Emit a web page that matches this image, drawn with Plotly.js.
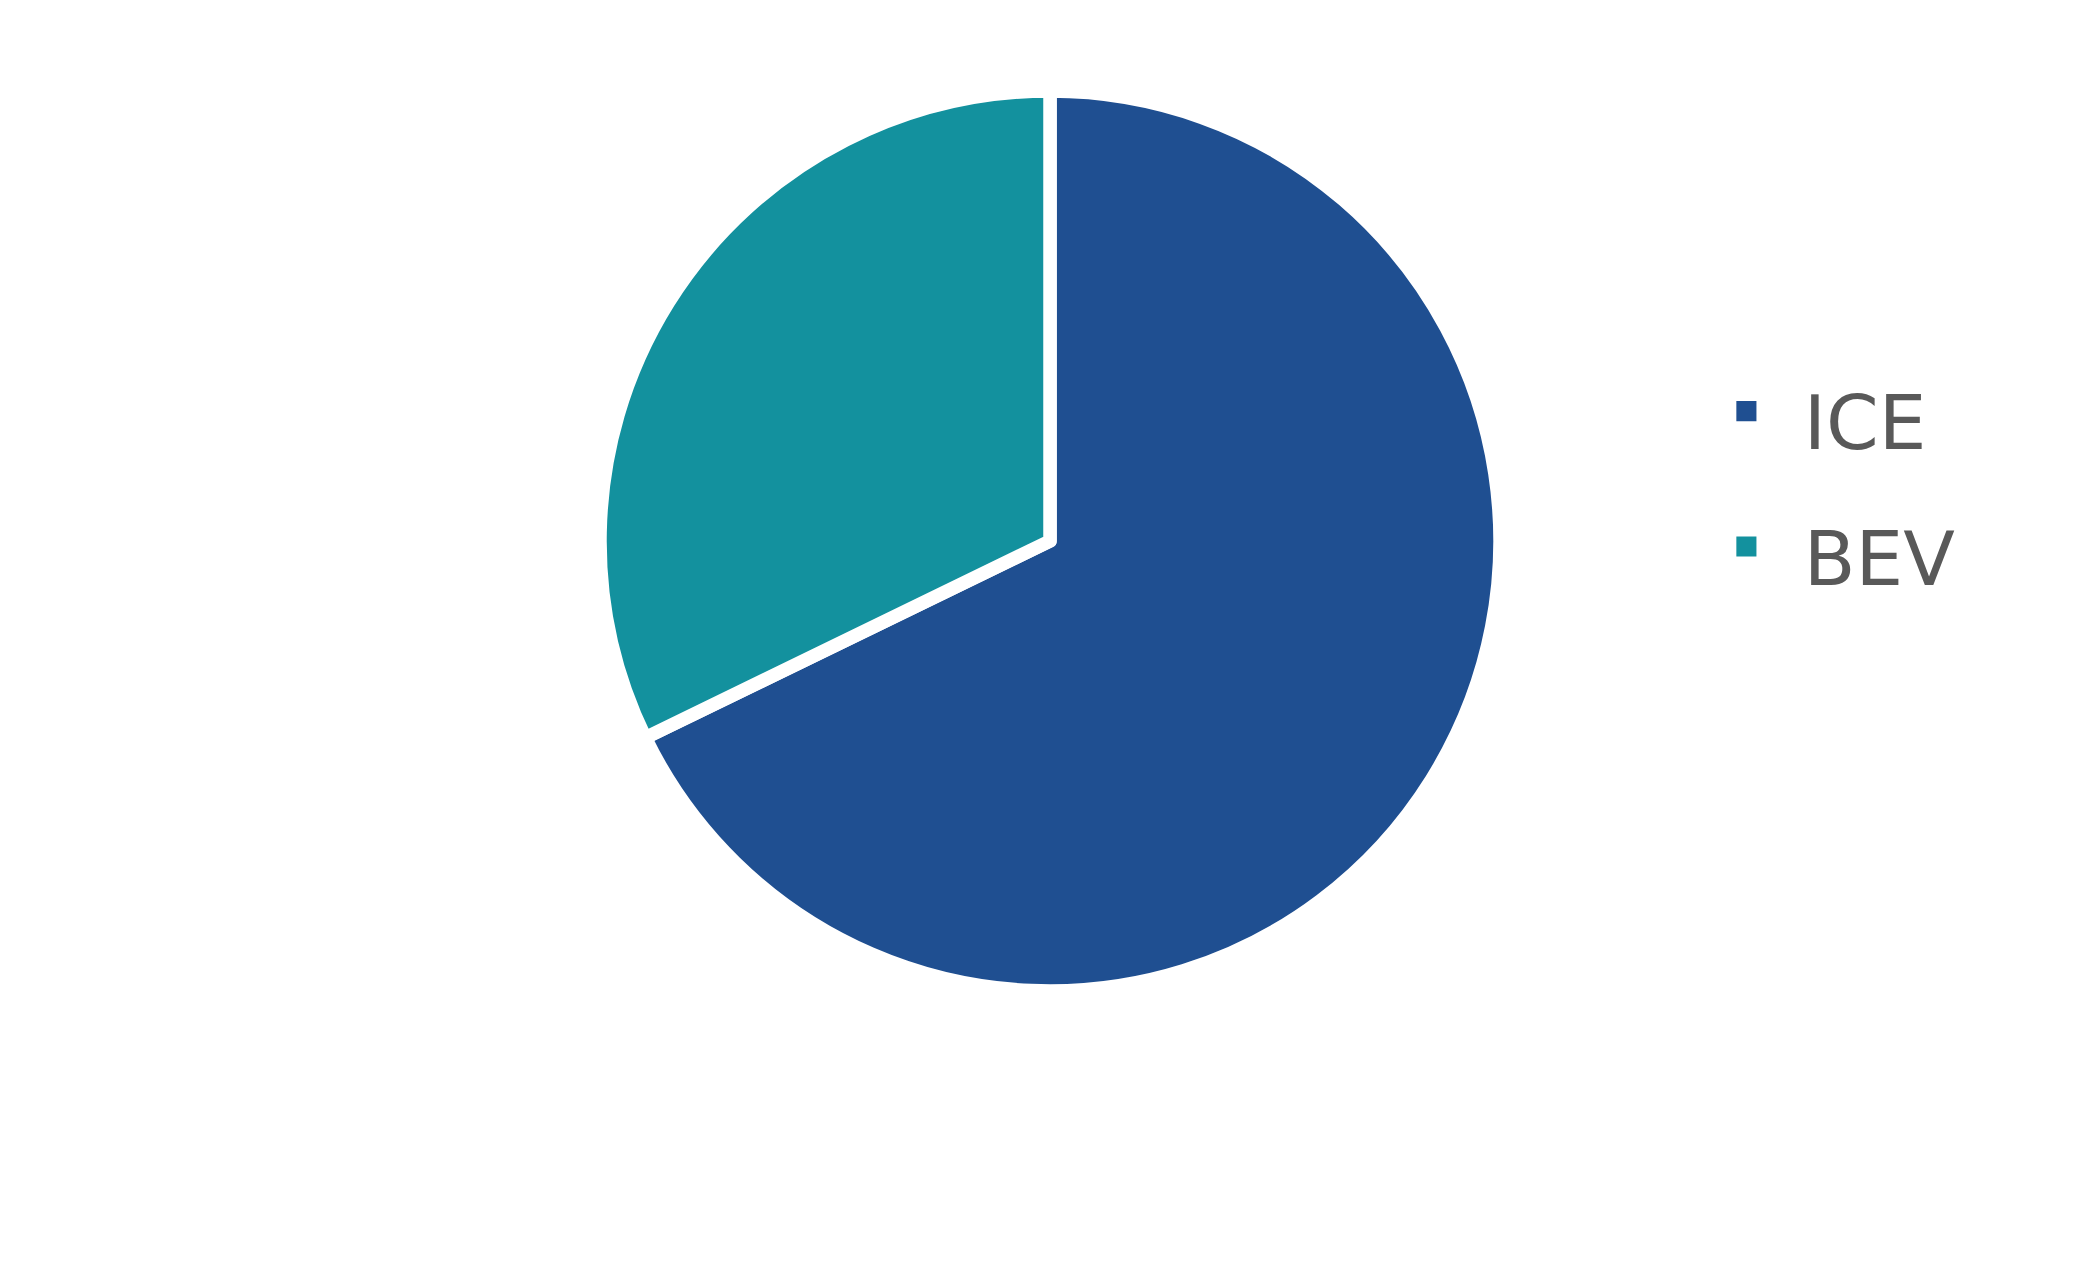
<!DOCTYPE html>
<html>
<head>
<meta charset="utf-8">
<script src="https://cdn.plot.ly/plotly-3.0.1.min.js"></script>
<style>
  html, body { margin:0; padding:0; background:#fff; overflow:hidden; }
</style>
</head>
<body>
<div id="chart"></div>
<script>
// ICE vs BEV share pie, legend on the right

const labels = ['ICE', 'BEV'];
const shares = [67.8, 32.2];
const colors = ['#1f4f91', '#13919e'];

const W = 2099, H = 1272;

// the legend is drawn at 1/LEG_SCALE and blown up afterwards so the swatches come out big
const LEG_SCALE = 2.87;
const LEG_X = 1689, LEG_Y = 329;
const labelFont = 26.3;   // glyph size of the legend labels
const legendLine = 34;    // legend font size, only widens the row spacing

const div = document.getElementById('chart');

const trace = {
  type: 'pie',
  labels: labels.map(l => `<span style="font-size:${labelFont}px">${l}</span>`),
  values: shares,
  sort: false,
  direction: 'clockwise',
  rotation: 0,
  textinfo: 'none',
  hoverinfo: 'percent',
  marker: { colors: colors, line: { color: '#ffffff', width: 13.5 } },
};

const layout = {
  width: W, height: H,
  margin: { l: 600, r: 599, t: 91, b: 281, autoexpand: false },
  paper_bgcolor: '#ffffff', plot_bgcolor: '#ffffff',
  showlegend: true,
  legend: {
    x: 1, xanchor: 'left', y: 1, yanchor: 'top',
    font: { family: 'Verdana, "DejaVu Sans", sans-serif', size: legendLine, color: '#595959' },
    bgcolor: 'rgba(0,0,0,0)',
  },
};

Plotly.newPlot(div, [trace], layout, { displayModeBar: false, staticPlot: true }).then(() => {
  const leg = div.querySelector('g.legend');
  if (leg) leg.setAttribute('transform', `translate(${LEG_X},${LEG_Y}) scale(${LEG_SCALE})`);
});
</script>
</body>
</html>
